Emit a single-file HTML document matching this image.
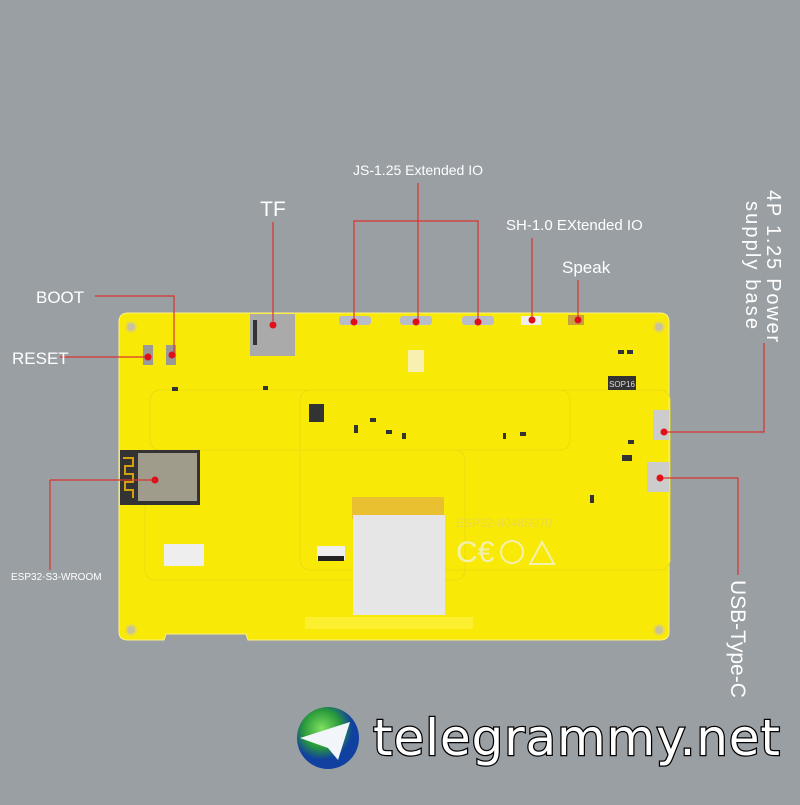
<!DOCTYPE html><html><head><style>body{margin:0;background:#9a9fa4}</style></head><body>
<svg width="800" height="800" xmlns="http://www.w3.org/2000/svg" font-family="Liberation Sans, sans-serif">
<rect width="800" height="800" fill="#9a9fa4"/>
<path d="M128 313 H660 Q669 313 669 322 V632 Q669 640 660 640 H248 L246 634 H166 L164 640 H128 Q119 640 119 632 V322 Q119 313 128 313 Z" fill="#f8ea06" stroke="#fff27a" stroke-width="1"/>
<g fill="#c9c29a" stroke="#e8dc40" stroke-width="2"><circle cx="131" cy="327" r="5"/><circle cx="659" cy="327" r="5"/><circle cx="131" cy="630" r="5"/><circle cx="659" cy="630" r="5"/></g>
<g fill="none" stroke="#ebdc10" stroke-width="1"><rect x="145" y="450" width="320" height="130" rx="10"/><rect x="300" y="390" width="370" height="180" rx="10"/><rect x="150" y="390" width="420" height="60" rx="10"/></g>
<rect x="120" y="450" width="80" height="55" fill="#333"/>
<rect x="138" y="453" width="59" height="48" fill="#a09c8c"/>
<path d="M123 458 h10 v8 h-8 v8 h8 v8 h-8 v8 h8 v8" fill="none" stroke="#d4a010" stroke-width="2"/>
<rect x="250" y="314" width="45" height="42" fill="#aaa"/>
<rect x="253" y="320" width="4" height="25" fill="#333"/>
<g fill="#b8bcc8"><rect x="339" y="316" width="32" height="9" rx="3"/><rect x="400" y="316" width="32" height="9" rx="3"/><rect x="462" y="316" width="32" height="9" rx="3"/><rect x="521" y="316" width="20" height="9" fill="#eee"/><rect x="568" y="315" width="16" height="10" fill="#c9a040"/></g>
<rect x="408" y="350" width="16" height="22" fill="#f7f0b0"/>
<rect x="143" y="345" width="10" height="20" fill="#999"/><rect x="166" y="345" width="10" height="20" fill="#999"/>
<rect x="653" y="410" width="16" height="30" fill="#ccc"/>
<rect x="647" y="462" width="22" height="30" fill="#ccc"/>
<rect x="309" y="404" width="15" height="18" fill="#333"/>
<g fill="#333"><rect x="370" y="418" width="6" height="4"/><rect x="386" y="430" width="6" height="4"/><rect x="354" y="425" width="4" height="8"/><rect x="402" y="433" width="4" height="6"/><rect x="520" y="432" width="6" height="4"/><rect x="503" y="433" width="3" height="6"/><rect x="618" y="350" width="6" height="4"/><rect x="627" y="350" width="6" height="4"/><rect x="628" y="440" width="6" height="4"/><rect x="622" y="455" width="10" height="6"/><rect x="172" y="387" width="6" height="4"/><rect x="263" y="386" width="5" height="4"/><rect x="590" y="495" width="4" height="8"/></g>
<rect x="608" y="376" width="28" height="14" fill="#333"/><text x="622" y="387" font-size="8" fill="#ddd" text-anchor="middle">SOP16</text>
<rect x="352" y="497" width="92" height="22" fill="#e8c030"/>
<rect x="353" y="515" width="92" height="100" fill="#e6e6e6"/>
<rect x="305" y="617" width="168" height="12" fill="#fbef30"/>
<rect x="164" y="544" width="40" height="22" fill="#eee"/>
<rect x="317" y="546" width="28" height="14" fill="#eee"/><rect x="318" y="556" width="26" height="5" fill="#222"/>
<text x="456" y="527" font-size="12" fill="#e8d84a">ESP32-8048S070</text>
<text x="456" y="562" font-size="30" fill="#f4f0b0">C€</text>
<circle cx="512" cy="552" r="11" fill="none" stroke="#f4f0b0" stroke-width="2"/>
<path d="M530 564 L542 542 L554 564 Z" fill="none" stroke="#f4f0b0" stroke-width="2"/>
<g stroke="#d9342f" stroke-width="1.2" fill="none">
<path d="M95 296 H174 V355"/><path d="M60 357 H148"/><path d="M273 222 V321"/>
<path d="M418 183 V321"/><path d="M354 321 V221 H478 V321"/>
<path d="M532 238 V318"/><path d="M578 280 V318"/>
<path d="M50 480 H154 M50 480 V570"/>
<path d="M663 432 H764 V343"/><path d="M659 478 H738 V575"/>
</g>
<g fill="#e0101a"><circle cx="148" cy="357" r="3.5"/><circle cx="172" cy="355" r="3.5"/><circle cx="273" cy="325" r="3.5"/><circle cx="354" cy="322" r="3.5"/><circle cx="416" cy="322" r="3.5"/><circle cx="478" cy="322" r="3.5"/><circle cx="532" cy="320" r="3.5"/><circle cx="578" cy="320" r="3.5"/><circle cx="155" cy="480" r="3.5"/><circle cx="664" cy="432" r="3.5"/><circle cx="660" cy="478" r="3.5"/></g>
<g fill="#fff">
<text x="36" y="303" font-size="17">BOOT</text>
<text x="12" y="364" font-size="17">RESET</text>
<text x="273" y="216" font-size="21" text-anchor="middle">TF</text>
<text x="418" y="175" font-size="14" text-anchor="middle">JS-1.25 Extended IO</text>
<text x="506" y="230" font-size="15">SH-1.0 EXtended IO</text>
<text x="562" y="273" font-size="17">Speak</text>
<text x="11" y="580" font-size="10">ESP32-S3-WROOM</text>
<text transform="translate(767,190) rotate(90)" font-size="20" textLength="152">4P 1.25 Power</text>
<text transform="translate(746,201) rotate(90)" font-size="20" textLength="128">supply base</text>
<text transform="translate(731,580) rotate(90)" font-size="21">USB-Type-C</text>
</g>
<defs><radialGradient id="g" cx="40%" cy="35%"><stop offset="0" stop-color="#7ee060"/><stop offset="0.6" stop-color="#2a9a3a"/><stop offset="1" stop-color="#1040a0"/></radialGradient></defs>
<circle cx="328" cy="738" r="31" fill="url(#g)"/>
<path d="M300 738 L350 722 L338 760 L328 748 Z" fill="#f2f6fa"/>
<text x="373" y="755" font-size="50" fill="#fff" stroke="#000" stroke-width="2.5" paint-order="stroke" font-family="DejaVu Sans, sans-serif" textLength="407">telegrammy.net</text>
</svg></body></html>
